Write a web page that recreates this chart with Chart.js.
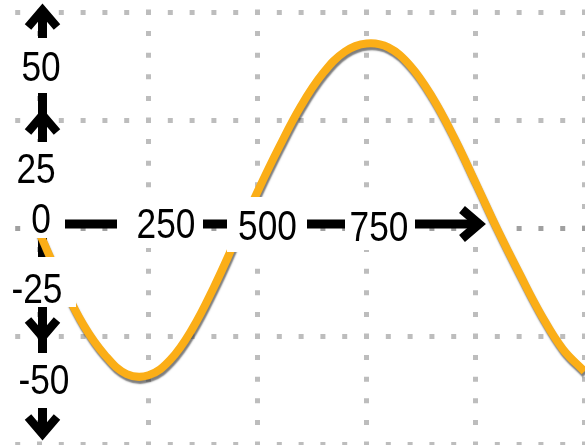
<!DOCTYPE html>
<html>
<head>
<meta charset="utf-8">
<script src="https://cdn.jsdelivr.net/npm/chart.js@4.4.1/dist/chart.umd.min.js"></script>
<style>
  html, body { margin: 0; padding: 0; background: #fff; }
  canvas { display: block; }
</style>
</head>
<body>
<canvas id="chart" width="585" height="445"></canvas>
<script>
// ===== Data =====
const xValues = [0, 50, 100, 150, 200, 250, 300, 350, 400, 450, 500, 550, 600,
                 650, 700, 750, 800, 850, 900, 950, 1000, 1050, 1100, 1150, 1200, 1250];
const yValues = [-1.2, -12.4, -22.3, -29.4, -33.8, -34.1, -30.5, -23.4, -13.7, -2.7, 8.4, 18.8, 28.3,
                 35.8, 40.8, 42.7, 41.8, 37.6, 30.4, 21.1, 10.5, -0.3, -10.4, -20.0, -28.0, -33.2];

const xGridValues = [0, 250, 500, 750, 1000, 1250];
const yGridValues = [50, 25, 0, -25, -50];
const xTickLabels = ['250', '500', '750'];
const yTickLabels = ['50', '25', '0', '-25', '-50'];

// ===== Layout =====
const W = 585, H = 445;
const X_MIN = -90.6, X_MAX = 1251.1;
const Y_MIN = -50.23, Y_MAX = 52.78;
const LINE_COLOR = '#fbae17';
const INK = '#000';
const FONT = '43px "Liberation Sans", Arial, sans-serif';
const FONT_SQUEEZE = 0.82;   // narrow digits

// label text centre + white backing box [x0, y0, x1, y1]
const yLabelLayout = [
  { cx: 41, cy: 66,    box: [14, 38, 68, 93] },
  { cx: 36, cy: 167.5, box: [10, 142, 66, 196] },
  { cx: 41, cy: 217.5, box: [24, 196, 65, 238] },
  { cx: 37, cy: 287.5, box: [6, 257, 76, 307] },
  { cx: 44, cy: 379,   box: [10, 353, 76, 408] }
];
const xLabelLayout = [
  { cx: 166,   cy: 222.5, box: [117, 198, 203, 248] },
  { cx: 267.5, cy: 225,   box: [227, 197, 307, 252] },
  { cx: 379,   cy: 226,   box: [345, 200, 415, 250] }
];

// axis geometry
const Y_AXIS_X = 42.5;
const X_AXIS_Y = 224;
const AXIS_W = 9;

// ===== Dotted grid helpers =====
const xPx = v => (v - X_MIN) / (X_MAX - X_MIN) * W;
const yPx = v => (Y_MAX - v) / (Y_MAX - Y_MIN) * H;
const DOT = 5;

function dotPattern(period, firstCenter) {
  const start = ((firstCenter - DOT / 2) % period + period) % period;
  return { dash: [DOT, period - DOT], dashOffset: period - start };
}

const vDots = dotPattern((yPx(0) - yPx(25)) / 5, yPx(50));      // along vertical lines
const hDots = dotPattern((xPx(250) - xPx(0)) / 5, xPx(0));      // along horizontal lines

// ===== Plugins =====
function arrowHead(ctx, tx, ty, dx, dy) {
  // (dx, dy) = unit direction the arrow points
  const back = 17, half = 14.5;
  const bx = tx - dx * back, by = ty - dy * back;
  ctx.beginPath();
  ctx.moveTo(bx - dy * half, by + dx * half);
  ctx.lineTo(tx, ty);
  ctx.lineTo(bx + dy * half, by - dx * half);
  ctx.stroke();
}

const axisArrows = {
  id: 'axisArrows',
  beforeDatasetsDraw(chart) {
    const ctx = chart.ctx;
    ctx.save();
    ctx.strokeStyle = INK;
    ctx.lineCap = 'butt';
    ctx.lineJoin = 'miter';
    ctx.miterLimit = 10;

    ctx.lineWidth = AXIS_W;
    ctx.beginPath();
    ctx.moveTo(Y_AXIS_X, 10);
    ctx.lineTo(Y_AXIS_X, 434);
    ctx.moveTo(Y_AXIS_X - 4, X_AXIS_Y);
    ctx.lineTo(479, X_AXIS_Y);
    ctx.stroke();

    ctx.lineWidth = 8.5;
    arrowHead(ctx, Y_AXIS_X, 10, 0, -1);
    arrowHead(ctx, Y_AXIS_X, 115, 0, -1);
    arrowHead(ctx, Y_AXIS_X, 337, 0, 1);
    arrowHead(ctx, Y_AXIS_X, 434, 0, 1);
    ctx.lineWidth = 9;
    arrowHead(ctx, 479, X_AXIS_Y, 1, 0);
    ctx.restore();
  }
};

const curveShadow = {
  id: 'curveShadow',
  beforeDatasetDraw(chart) {
    const ctx = chart.ctx;
    ctx.save();
    ctx.shadowColor = 'rgba(40, 40, 40, 0.6)';
    ctx.shadowBlur = 1.5;
    ctx.shadowOffsetX = 1;
    ctx.shadowOffsetY = 3;
  },
  afterDatasetDraw(chart) {
    chart.ctx.restore();
  }
};

const tickText = {
  id: 'tickText',
  afterDatasetsDraw(chart) {
    const ctx = chart.ctx;
    ctx.save();
    ctx.font = FONT;
    ctx.textAlign = 'center';
    ctx.textBaseline = 'alphabetic';
    const items = [];
    yTickLabels.forEach((t, i) => items.push([t, yLabelLayout[i]]));
    xTickLabels.forEach((t, i) => items.push([t, xLabelLayout[i]]));
    items.forEach(([t, l]) => {
      const [x0, y0, x1, y1] = l.box;
      ctx.fillStyle = '#fff';
      ctx.fillRect(x0, y0, x1 - x0, y1 - y0);
    });
    ctx.fillStyle = INK;
    items.forEach(([t, l]) => {
      ctx.save();
      ctx.translate(l.cx, l.cy + 15.4);
      ctx.scale(FONT_SQUEEZE, 1);
      ctx.fillText(t, 0, 0);
      ctx.restore();
    });
    ctx.restore();
  }
};

// ===== Chart =====
new Chart(document.getElementById('chart'), {
  type: 'line',
  data: {
    datasets: [{
      data: xValues.map((x, i) => ({ x: x, y: yValues[i] })),
      borderColor: LINE_COLOR,
      borderWidth: 8,
      pointRadius: 0,
      tension: 0.4,
      fill: false
    }]
  },
  options: {
    responsive: false,
    animation: false,
    layout: { padding: 0, autoPadding: false },
    plugins: { legend: { display: false }, tooltip: { enabled: false } },
    scales: {
      x: {
        type: 'linear',
        min: X_MIN,
        max: X_MAX,
        ticks: { display: false },
        afterBuildTicks: s => { s.ticks = xGridValues.map(v => ({ value: v })); },
        grid: { color: '#bdbdbd', lineWidth: DOT, drawTicks: false },
        border: { display: false, dash: vDots.dash, dashOffset: vDots.dashOffset }
      },
      y: {
        type: 'linear',
        min: Y_MIN,
        max: Y_MAX,
        ticks: { display: false },
        afterBuildTicks: s => { s.ticks = yGridValues.map(v => ({ value: v })); },
        grid: {
          color: c => (c.tick && c.tick.value === 0 ? '#a0a0a0' : '#bdbdbd'),
          lineWidth: DOT,
          drawTicks: false
        },
        border: { display: false, dash: hDots.dash, dashOffset: hDots.dashOffset }
      }
    }
  },
  plugins: [axisArrows, curveShadow, tickText]
});
</script>
</body>
</html>
